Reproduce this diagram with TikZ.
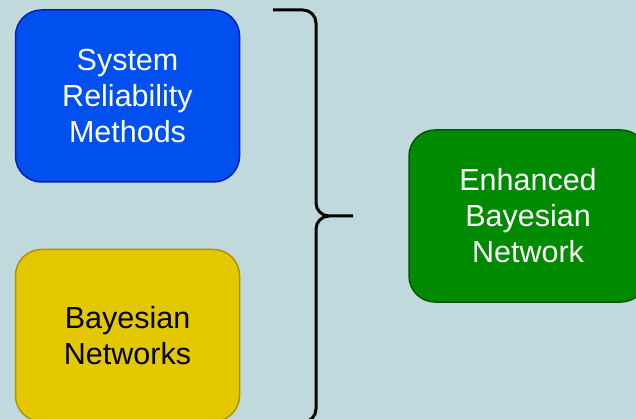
\documentclass[tikz,border=0pt]{standalone}
\usepackage{fontspec}
\setmainfont{Liberation Sans}
\definecolor{bgc}{HTML}{C0D9DC}
\definecolor{blueF}{HTML}{0050EF}
\definecolor{blueS}{HTML}{001DBC}
\definecolor{yelF}{HTML}{E3C800}
\definecolor{yelS}{HTML}{B09500}
\definecolor{grnF}{HTML}{008A00}
\definecolor{grnS}{HTML}{005700}
\tikzset{
  box/.style={draw, line width=1.5pt, rounded corners=26pt, minimum width=224pt,
    minimum height=172pt, align=center, inner sep=0pt,
    font=\fontsize{30.5}{36}\selectfont},
  brace/.style={draw=black, line width=3pt, line cap=butt, line join=round}
}
\begin{document}
\begin{tikzpicture}[x=1pt,y=-1pt]
  \fill[bgc] (0,0) rectangle (636,419);
  \useasboundingbox (0,0) rectangle (636,419);
  \clip (0,0) rectangle (636,419);
  \node[box, fill=blueF, draw=blueS, text=white] (srm) at (127.5,96)
    {System\\Reliability\\Methods};
  \node[box, fill=yelF, draw=yelS, text=black] (bn) at (127.5,335.5)
    {Bayesian\\Networks};
  \node[box, fill=grnF, draw=grnS, text=white, minimum width=238pt] (ebn) at (528,216)
    {Enhanced\\Bayesian\\Network};
  % curly brace joining the two inputs
  \coordinate (btop) at (273,10);
  \coordinate (btip) at (353,216);
  \coordinate (bbot) at (273,422);
  \draw[brace] (btop) -- (303,10) arc[start angle=-90, end angle=0, radius=13]
    -- (316,203) arc[start angle=180, end angle=90, radius=13] -- (btip);
  \draw[brace] (329,216) arc[start angle=270, end angle=180, radius=13]
    -- (316,409) arc[start angle=0, end angle=90, radius=13] -- (bbot);
\end{tikzpicture}
\end{document}
